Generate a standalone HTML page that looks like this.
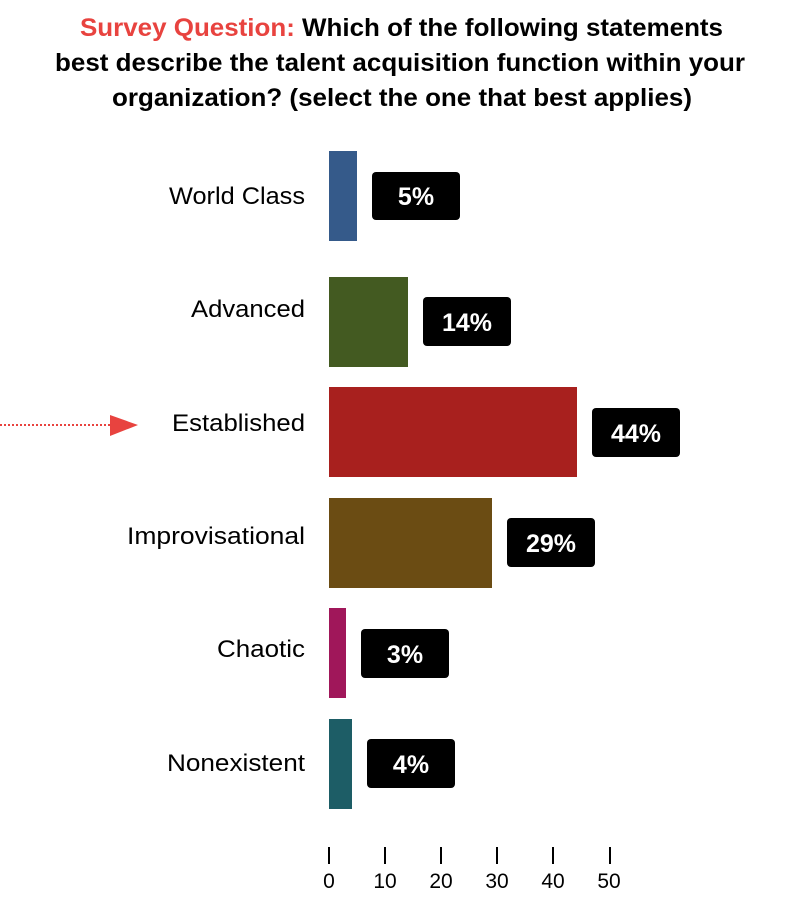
<!DOCTYPE html>
<html><head><style>
html,body{margin:0;padding:0;background:#fff;width:804px;height:918px;overflow:hidden}
svg text{font-family:"Liberation Sans",Arial,sans-serif}
</style></head><body>
<svg width="804" height="918" xmlns="http://www.w3.org/2000/svg">
<g font-weight="bold" font-size="25" fill="#000">
<text x="80" y="36" textLength="643" lengthAdjust="spacingAndGlyphs"><tspan fill="#e8433f">Survey Question:</tspan> Which of the following statements</text>
<text x="55" y="71" textLength="690" lengthAdjust="spacingAndGlyphs">best describe the talent acquisition function within your</text>
<text x="112" y="106" textLength="580" lengthAdjust="spacingAndGlyphs">organization? (select the one that best applies)</text>
</g>
<g font-size="24" fill="#000">
<text x="169" y="204" textLength="136" lengthAdjust="spacingAndGlyphs">World Class</text>
<text x="191" y="317" textLength="114" lengthAdjust="spacingAndGlyphs">Advanced</text>
<text x="172" y="431" textLength="133" lengthAdjust="spacingAndGlyphs">Established</text>
<text x="127" y="544" textLength="178" lengthAdjust="spacingAndGlyphs">Improvisational</text>
<text x="217" y="657" textLength="88" lengthAdjust="spacingAndGlyphs">Chaotic</text>
<text x="167" y="771" textLength="138" lengthAdjust="spacingAndGlyphs">Nonexistent</text>
</g>
<line x1="0" y1="425" x2="112" y2="425" stroke="#e8433f" stroke-width="2" stroke-dasharray="2,2"/>
<polygon points="110,415 138,425 110,436" fill="#e8433f"/>
<rect x="329" y="151" width="28" height="90" fill="#355a8a"/>
<rect x="329" y="277" width="79" height="90" fill="#435a21"/>
<rect x="329" y="387" width="248" height="90" fill="#a8201e"/>
<rect x="329" y="498" width="163" height="90" fill="#6b4c13"/>
<rect x="329" y="608" width="17" height="90" fill="#a0175a"/>
<rect x="329" y="719" width="23" height="90" fill="#1d5d66"/>
<g fill="#000">
<rect x="372" y="172" width="88" height="48" rx="4"/>
<rect x="423" y="297" width="88" height="49" rx="4"/>
<rect x="592" y="408" width="88" height="49" rx="4"/>
<rect x="507" y="518" width="88" height="49" rx="4"/>
<rect x="361" y="629" width="88" height="49" rx="4"/>
<rect x="367" y="739" width="88" height="49" rx="4"/>
</g>
<g fill="#fff" font-weight="bold" font-size="25" text-anchor="middle">
<text x="416" y="205">5%</text>
<text x="467" y="331">14%</text>
<text x="636" y="442">44%</text>
<text x="551" y="552">29%</text>
<text x="405" y="663">3%</text>
<text x="411" y="773">4%</text>
</g>
<g stroke="#000" stroke-width="2">
<line x1="329" y1="847" x2="329" y2="864"/>
<line x1="385" y1="847" x2="385" y2="864"/>
<line x1="441" y1="847" x2="441" y2="864"/>
<line x1="497" y1="847" x2="497" y2="864"/>
<line x1="553" y1="847" x2="553" y2="864"/>
<line x1="610" y1="847" x2="610" y2="864"/>
</g>
<g font-size="21" text-anchor="middle" fill="#000">
<text x="329" y="888">0</text>
<text x="385" y="888">10</text>
<text x="441" y="888">20</text>
<text x="497" y="888">30</text>
<text x="553" y="888">40</text>
<text x="609" y="888">50</text>
</g>
</svg>
</body></html>
